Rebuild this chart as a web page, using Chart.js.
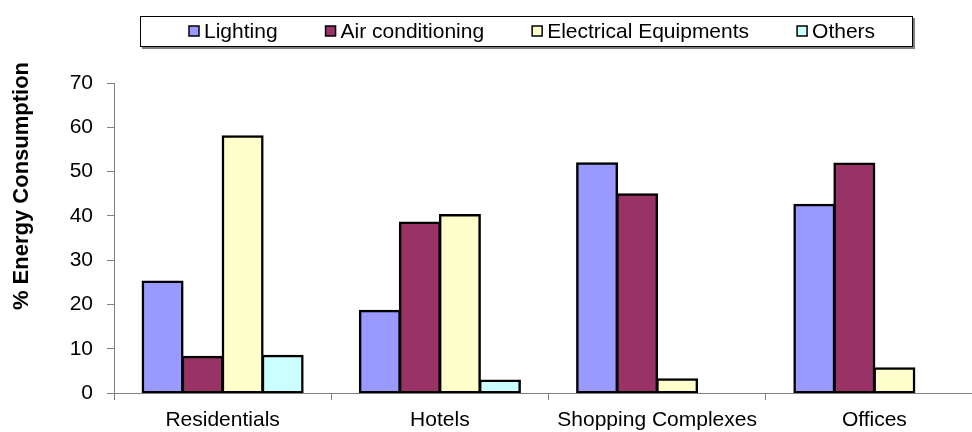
<!DOCTYPE HTML>
<html>
<head>
    <title>Energy consumption</title>
    <meta charset="utf-8" />
    <script src="https://cdn.jsdelivr.net/npm/chart.js@4.4.0/dist/chart.umd.min.js"></script>
    <style>
        body { margin: 0; background: #fff; overflow: hidden; }
        #container { width: 990px; height: 432px; }
    </style>
</head>
<body>
<div id="container"><canvas id="chartCanvas"></canvas></div>
<script>
    const categories = ["Residentials", "Hotels", "Shopping Complexes", "Offices"];
    const lighting = [25.2, 18.6, 51.9, 42.5];
    const air_conditioning = [8.2, 38.5, 44.9, 51.8];
    const electrical = [58.0, 40.2, 3.1, 5.6];
    const others = [8.4, 2.8, 0, 0];
    const series_names = ["Lighting", "Air conditioning", "Electrical Equipments", "Others"];
    const y_min = 0, y_max = 70, y_step = 10;
    const y_title = "% Energy Consumption";

    const colors = ['#9999ff', '#993366', '#ffffcc', '#ccffff'];
    const font_family = "'Liberation Sans', Arial, sans-serif";
    const font_size = 21;
    const axis_color = '#808080';

    // legend drawn by hand so the boxed frame matches
    const legend_plugin = {
        id: 'boxed_legend',
        afterDraw(chart) {
            const ctx = chart.ctx;
            ctx.save();
            ctx.fillStyle = '#808080';
            ctx.fillRect(142, 18, 773, 31);
            ctx.fillStyle = '#fff';
            ctx.fillRect(140, 16, 772, 30);
            ctx.strokeStyle = '#000';
            ctx.lineWidth = 1;
            ctx.strokeRect(140.5, 16.5, 772, 30);

            ctx.font = font_size + "px " + font_family;
            ctx.textBaseline = 'middle';
            ctx.textAlign = 'left';
            let x = 189;
            chart.data.datasets.forEach(ds => {
                ctx.fillStyle = ds.backgroundColor;
                ctx.fillRect(x, 26, 10, 10);
                ctx.lineWidth = 1.5;
                ctx.strokeStyle = '#000';
                ctx.strokeRect(x, 26, 10, 10);
                ctx.fillStyle = '#000';
                ctx.fillText(ds.label, x + 15, 32);
                x += 15 + ctx.measureText(ds.label).width + 48;
            });

            // y title, sits a bit above the axis middle in the original
            ctx.translate(22, 186);
            ctx.rotate(-Math.PI / 2);
            ctx.font = "bold 22px " + font_family;
            ctx.textAlign = 'center';
            ctx.fillText(y_title, 0, 0);
            ctx.restore();
        }
    };

    const series = [lighting, air_conditioning, electrical, others];

    const config = {
        type: 'bar',
        data: {
            labels: categories,
            datasets: series.map((values, i) => ({
                label: series_names[i],
                data: values,
                backgroundColor: colors[i],
                borderColor: '#000',
                borderWidth: 2.5,
                borderSkipped: false,
                inflateAmount: 1,
                categoryPercentage: 0.737,
                barPercentage: 1
            }))
        },
        options: {
            responsive: true,
            maintainAspectRatio: false,
            animation: false,
            layout: {
                padding: { top: 83, left: 0, right: 7, bottom: 0 }
            },
            plugins: {
                legend: { display: false },
                tooltip: { enabled: false }
            },
            scales: {
                x: {
                    grid: {
                        drawOnChartArea: false,
                        tickLength: 7,
                        color: axis_color,
                        offset: true
                    },
                    border: { color: axis_color, width: 1 },
                    ticks: {
                        color: '#000',
                        padding: 8,
                        maxRotation: 0,
                        autoSkip: false,
                        font: { family: font_family, size: font_size }
                    },
                    afterFit(scale) { scale.height = 39; }
                },
                y: {
                    min: y_min,
                    max: y_max,
                    grid: {
                        drawOnChartArea: false,
                        tickLength: 7,
                        color: axis_color
                    },
                    border: { color: axis_color, width: 1 },
                    ticks: {
                        stepSize: y_step,
                        color: '#000',
                        padding: 14,
                        font: { family: font_family, size: font_size }
                    },
                    afterFit(scale) { scale.width = 114; }
                }
            }
        },
        plugins: [legend_plugin]
    };

    new Chart(document.getElementById('chartCanvas'), config);
</script>
</body>
</html>
